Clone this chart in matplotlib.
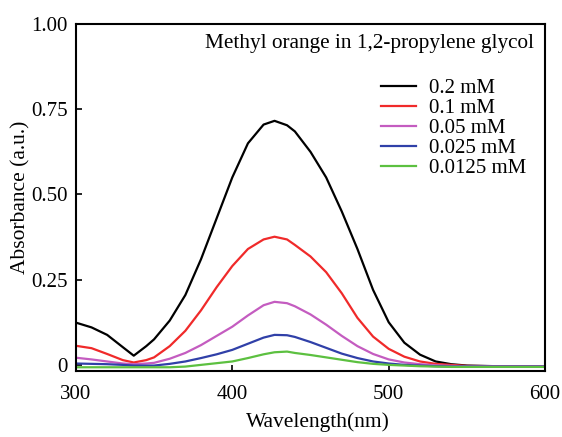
import numpy as np
import matplotlib.pyplot as plt

plt.rcParams['font.family'] = ['Liberation Serif', 'DejaVu Serif']

wl = [300, 310, 320, 330, 337, 345, 350, 360, 370, 380, 390, 400, 410, 420, 427,
      435, 440, 450, 460, 470, 480, 490, 500, 510, 520, 530, 540, 550, 570, 600]

a_02 = [0.124, 0.11, 0.088, 0.052, 0.027, 0.055, 0.075, 0.13, 0.205, 0.31, 0.43, 0.55, 0.65, 0.705, 0.716,
        0.703, 0.685, 0.625, 0.55, 0.45, 0.34, 0.22, 0.125, 0.065, 0.03, 0.01, 0.002, -0.002, -0.004, -0.004]
a_01 = [0.056, 0.049, 0.032, 0.014, 0.007, 0.014, 0.022, 0.055, 0.1, 0.16, 0.228, 0.29, 0.34, 0.368, 0.376,
        0.368, 0.352, 0.318, 0.272, 0.21, 0.138, 0.083, 0.047, 0.024, 0.01, 0.003, 0.0, -0.003, -0.004, -0.004]
a_005 = [0.021, 0.016, 0.01, 0.004, 0.002, 0.004, 0.006, 0.018, 0.035, 0.058, 0.085, 0.112, 0.145, 0.175, 0.185,
         0.181, 0.172, 0.148, 0.118, 0.085, 0.055, 0.032, 0.016, 0.007, 0.002, -0.001, -0.003, -0.004, -0.004, -0.004]
a_0025 = [0.004, 0.003, 0.002, 0.0, -0.002, -0.002, -0.002, 0.003, 0.01, 0.02, 0.031, 0.044, 0.062, 0.08, 0.088,
          0.087, 0.082, 0.067, 0.05, 0.033, 0.02, 0.01, 0.004, 0.0, -0.002, -0.004, -0.005, -0.005, -0.005, -0.005]
a_00125 = [-0.007, -0.007, -0.007, -0.007, -0.007, -0.007, -0.007, -0.007, -0.005, 0.0, 0.005, 0.01, 0.02, 0.031, 0.037,
           0.039, 0.035, 0.029, 0.022, 0.015, 0.008, 0.003, 0.0, -0.002, -0.004, -0.005, -0.006, -0.006, -0.006, -0.006]

labels = ['0.2 mM', '0.1 mM', '0.05 mM', '0.025 mM', '0.0125 mM']
colors = ['#000000', '#f02a2a', '#c45cc0', '#3040a8', '#5cc040']
series = [a_02, a_01, a_005, a_0025, a_00125]

fig = plt.figure(figsize=(5.62, 4.37), dpi=100)
ax = fig.add_axes([0.135, 0.151, 0.835, 0.794])

for y, lab, c in zip(series, labels, colors):
    ax.plot(wl, y, color=c, lw=1.6, label=lab)

ax.set_xlim(300, 600)
ax.set_ylim(-0.018, 1.0)
ax.set_xticks([300, 400, 500, 600])
ax.set_yticks([0, 0.25, 0.5, 0.75, 1.0])
ax.set_yticklabels(['0', '0.25', '0.50', '0.75', '1.00'])
ax.tick_params(direction='in', labelsize=15, length=4, width=1.2, pad=6)
ax.tick_params(axis='x', pad=10)
for s in ax.spines.values():
    s.set_linewidth(1.5)

ax.set_xlabel('Wavelength(nm)', fontsize=15.5)
ax.xaxis.set_label_coords(0.515, -0.118)
ax.set_ylabel('Absorbance (a.u.)', fontsize=15.5, labelpad=0)

ax.text(0.976, 0.945, 'Methyl orange in 1,2-propylene glycol', transform=ax.transAxes,
        ha='right', va='center', fontsize=15.3)

ax.legend(loc='upper right', bbox_to_anchor=(0.99, 0.885), frameon=False, fontsize=15,
          handlelength=1.7, labelspacing=0.02, handletextpad=0.6, borderpad=0.2)

fig.savefig('out.png', dpi=100)
